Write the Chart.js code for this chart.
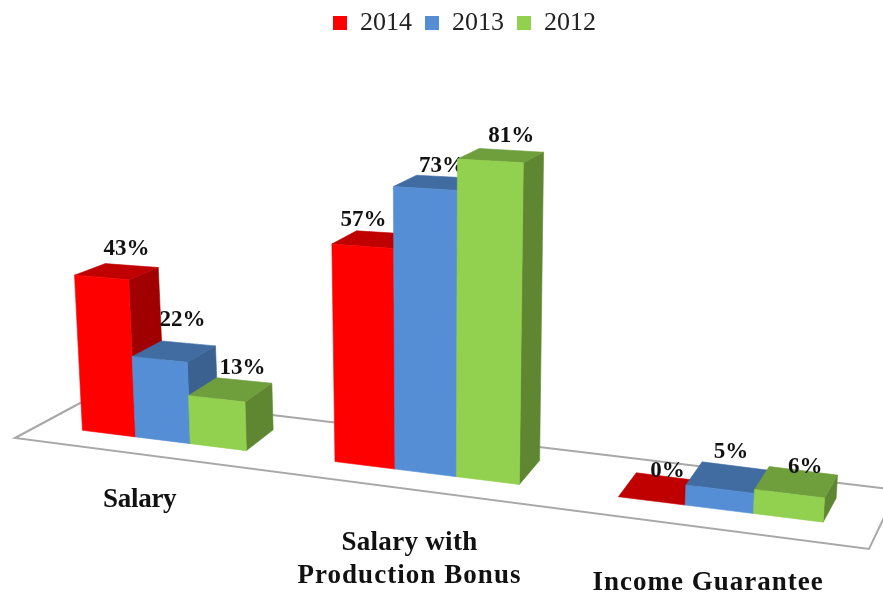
<!DOCTYPE html>
<html>
<head>
<meta charset="utf-8">
<style>html,body{margin:0;padding:0;background:#fff}canvas{display:block}</style>
<script src="https://cdn.jsdelivr.net/npm/chart.js@4/dist/chart.umd.min.js"></script>
</head>
<body>
<canvas id="c" width="883" height="593"></canvas>
<script>
const categories = ['Salary', ['Salary with', 'Production Bonus'], 'Income Guarantee'];
const seriesNames = ['2014', '2013', '2012'];
const values2014 = [43, 57, 0];
const values2013 = [22, 73, 5];
const values2012 = [13, 81, 6];
const frontColors = ['#FF0000', '#558ED5', '#92D050'];
const topColors = ['#C00000', '#406CA1', '#6F9E3D'];
const sideColors = ['#A00000', '#3A618F', '#5F8732'];
const labelFont = '"Liberation Serif", serif';

// Per-label placement relative to the top-front centre of its bar, by series then category
const valueLabelShift = [
  [[25, -28], [1, -26], [16, -30]],
  [[23, -39], [17, -22], [11, -37]],
  [[26, -31], [21, -25], [16, -27]]
];
// Category label placement relative to the group's centre on the floor
const categoryLabelShift = [[-23, 60], [-16, 70], [-11, 74]];
const categoryLabelSpacing = [[-0.3], [0.3, 1.05], [1]];

// Perspective view of the chart plane
const viewX = u => 425 + 0.945 * (u - 441) + 0.000178 * (u - 441) * (u - 441);
const floorY = x => 430 + 0.124 * (x - 80);
const growth = x => 1 + 0.00022 * (Math.min(x, 560) - 300);
const project = (u, h, deep) => {
  const x = viewX(u);
  const hh = h * growth(x);
  const px = x + (x - 434) * 1.45e-4 * hh;
  const py = floorY(x) - hh;
  if (!deep) return [px, py];
  const rise = Math.min(24, 20 + 0.0167 * (x - 200)) - 0.042 * hh;
  return [px + 31 - 0.024 * (x - 72), py - rise];
};
const poly = (ctx, pts, fill) => {
  ctx.beginPath();
  pts.forEach((p, i) => i ? ctx.lineTo(p[0], p[1]) : ctx.moveTo(p[0], p[1]));
  ctx.closePath();
  ctx.fillStyle = fill;
  ctx.fill();
  ctx.strokeStyle = fill;
  ctx.lineWidth = 0.6;
  ctx.stroke();
};

const view3d = {
  id: 'view3d',
  afterLayout(chart) {
    const lg = chart.legend;
    lg.left += 46;
    lg.top -= 3;
    lg.bottom -= 3;
    lg.adjustHitBoxes();
  },
  beforeDatasetDraw() { return false; },
  beforeDatasetsDraw(chart) {
    const ctx = chart.ctx;
    ctx.save();
    ctx.strokeStyle = '#A8A8A8';
    ctx.lineWidth = 2;
    ctx.beginPath();
    ctx.moveTo(97, 394);
    ctx.lineTo(15, 438);
    ctx.lineTo(869, 549);
    ctx.lineTo(890, 505);
    ctx.moveTo(97, 394);
    ctx.lineTo(890, 489);
    ctx.stroke();
    ctx.restore();
  },
  afterDatasetsDraw(chart) {
    const ctx = chart.ctx;
    const yScale = chart.scales.y;
    const zero = yScale.getPixelForValue(0);
    ctx.save();
    chart.data.datasets.forEach((ds, s) => {
      chart.getDatasetMeta(s).data.forEach((el, i) => {
        const l = el.x - el.width / 2, r = el.x + el.width / 2, h = zero - el.y;
        if (h > 0) {
          poly(ctx, [project(r, 0), project(r, h), project(r, h, true), project(r, 0, true)], sideColors[s]);
        }
        poly(ctx, [project(l, h), project(r, h), project(r, h, true), project(l, h, true)], topColors[s]);
        if (h > 0) {
          poly(ctx, [project(l, 0), project(r, 0), project(r, h), project(l, h)], frontColors[s]);
        }
        const c = project(el.x, h);
        const sh = valueLabelShift[s][i];
        ctx.font = 'bold 23px ' + labelFont;
        ctx.fillStyle = '#111';
        ctx.textAlign = 'center';
        ctx.textBaseline = 'middle';
        ctx.fillText(ds.data[i] + '%', c[0] + sh[0], c[1] + sh[1]);
      });
    });
    const xScale = chart.scales.x;
    ctx.font = 'bold 27px ' + labelFont;
    ctx.fillStyle = '#111';
    ctx.textAlign = 'center';
    ctx.textBaseline = 'middle';
    categories.forEach((cat, i) => {
      const g = project(xScale.getPixelForValue(i), 0);
      const lines = Array.isArray(cat) ? cat : [cat];
      lines.forEach((t, k) => {
        ctx.letterSpacing = categoryLabelSpacing[i][k] + 'px';
        ctx.fillText(t, g[0] + categoryLabelShift[i][0], g[1] + categoryLabelShift[i][1] + k * 33);
      });
    });
    ctx.restore();
  }
};

new Chart(document.getElementById('c'), {
  type: 'bar',
  plugins: [view3d],
  data: {
    labels: categories,
    datasets: [
      { label: seriesNames[0], data: values2014, backgroundColor: frontColors[0] },
      { label: seriesNames[1], data: values2013, backgroundColor: frontColors[1] },
      { label: seriesNames[2], data: values2012, backgroundColor: frontColors[2] }
    ]
  },
  options: {
    responsive: false,
    animation: false,
    devicePixelRatio: 1,
    layout: { padding: { left: 0, right: 0, top: 0, bottom: 165 } },
    datasets: { bar: { categoryPercentage: 0.6626, barPercentage: 1 } },
    scales: {
      x: { display: false },
      y: { display: false, min: 0, max: 100 }
    },
    plugins: {
      tooltip: { enabled: false },
      legend: {
        position: 'top',
        labels: {
          boxWidth: 14,
          boxHeight: 14,
          padding: 13,
          color: '#222',
          font: { family: labelFont, size: 26 }
        }
      }
    }
  }
});
</script>
</body>
</html>
